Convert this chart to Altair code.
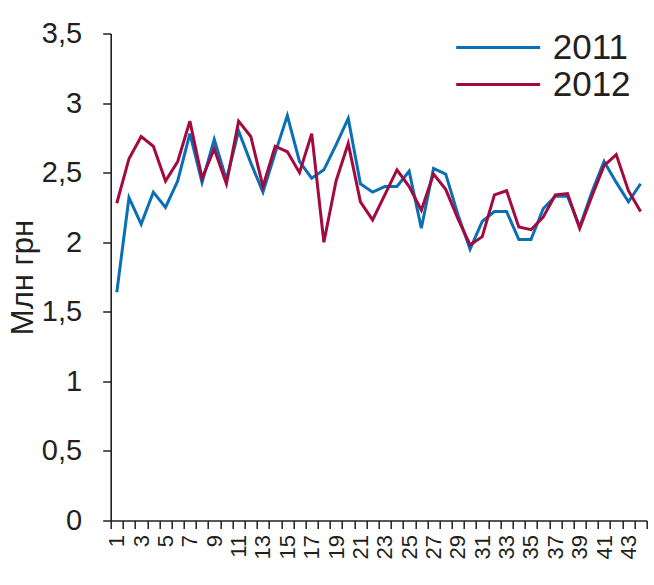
import altair as alt
import pandas as pd

weeks = list(range(1, 45))
v2011 = [1.64, 2.32, 2.13, 2.36, 2.25, 2.44, 2.78, 2.43, 2.74, 2.45,
         2.80, 2.57, 2.36, 2.64, 2.91, 2.58, 2.46, 2.52, 2.70, 2.89,
         2.42, 2.36, 2.40, 2.40, 2.51, 2.10, 2.53, 2.49, 2.20, 1.95,
         2.15, 2.22, 2.22, 2.02, 2.02, 2.24, 2.33, 2.33, 2.11, 2.36,
         2.58, 2.43, 2.29, 2.42]
v2012 = [2.28, 2.60, 2.76, 2.69, 2.44, 2.58, 2.87, 2.46, 2.67, 2.42,
         2.87, 2.76, 2.40, 2.69, 2.65, 2.50, 2.78, 2.00, 2.44, 2.71,
         2.29, 2.16, 2.34, 2.52, 2.40, 2.23, 2.49, 2.38, 2.17, 1.98,
         2.04, 2.34, 2.37, 2.11, 2.09, 2.18, 2.34, 2.35, 2.10, 2.33,
         2.55, 2.63, 2.37, 2.22]
series = ["2011", "2012"]
colors = ["#0a6fb5", "#a30a40"]
y_ticks = [0, 0.5, 1, 1.5, 2, 2.5, 3, 3.5]
x_ticks = [i / 2 for i in range(1, 90)]

df = pd.DataFrame({
    "week": weeks * 2,
    "value": v2011 + v2012,
    "year": [series[0]] * len(weeks) + [series[1]] * len(weeks),
})

FONT = "Liberation Sans"
TXT = "#231f20"

chart = alt.Chart(df).mark_line(strokeWidth=3).encode(
    x=alt.X("week:Q",
            scale=alt.Scale(domain=[0.5, 44.5], nice=False, zero=False),
            axis=alt.Axis(values=x_ticks, title=None, grid=False,
                          labelExpr="(datum.value % 2 === 1) ? '' + datum.value : ''",
                          labelAngle=-90, labelAlign="right", labelBaseline="middle",
                          labelOverlap=False, labelFlush=False, labelBound=False,
                          tickSize=8, tickWidth=1.5, tickColor="#231f20",
                          tickOpacity={"condition": {"test": "datum.value % 1 !== 0", "value": 1}, "value": 0},
                          labelPadding=6, labelFontSize=22, labelFont=FONT, labelColor=TXT,
                          domainColor="#231f20", domainWidth=1.6)),
    y=alt.Y("value:Q",
            scale=alt.Scale(domain=[0, 3.5], nice=False),
            axis=alt.Axis(values=y_ticks, title="Млн грн", grid=False,
                          labelExpr="replace(format(datum.value, '.1~f'), '.', ',')",
                          tickSize=8, tickWidth=1.5, tickColor="#231f20",
                          labelPadding=21, labelFontSize=29, labelFont=FONT, labelColor=TXT,
                          titleFontSize=31, titleFont=FONT, titleColor=TXT,
                          titleFontWeight="normal", titlePadding=2,
                          domainColor="#231f20", domainWidth=1.6)),
    color=alt.Color("year:N",
                    scale=alt.Scale(domain=series, range=colors),
                    legend=alt.Legend(title=None, orient="none", legendX=368.5, legendY=-5,
                                      symbolType="M-2.4,0H2.4", symbolSize=1225,
                                      symbolStrokeWidth=3, labelFontSize=35,
                                      labelFont=FONT, labelColor=TXT, labelOffset=35.5,
                                      rowPadding=0)),
).properties(
    width=536, height=487,
    autosize=alt.AutoSizeParams(type="none"),
    padding={"left": 110.7, "top": 33.5, "right": 7.3, "bottom": 64.5},
).configure_view(stroke=None)

chart.save("out.html", embed_options={"renderer": "svg", "actions": False})
